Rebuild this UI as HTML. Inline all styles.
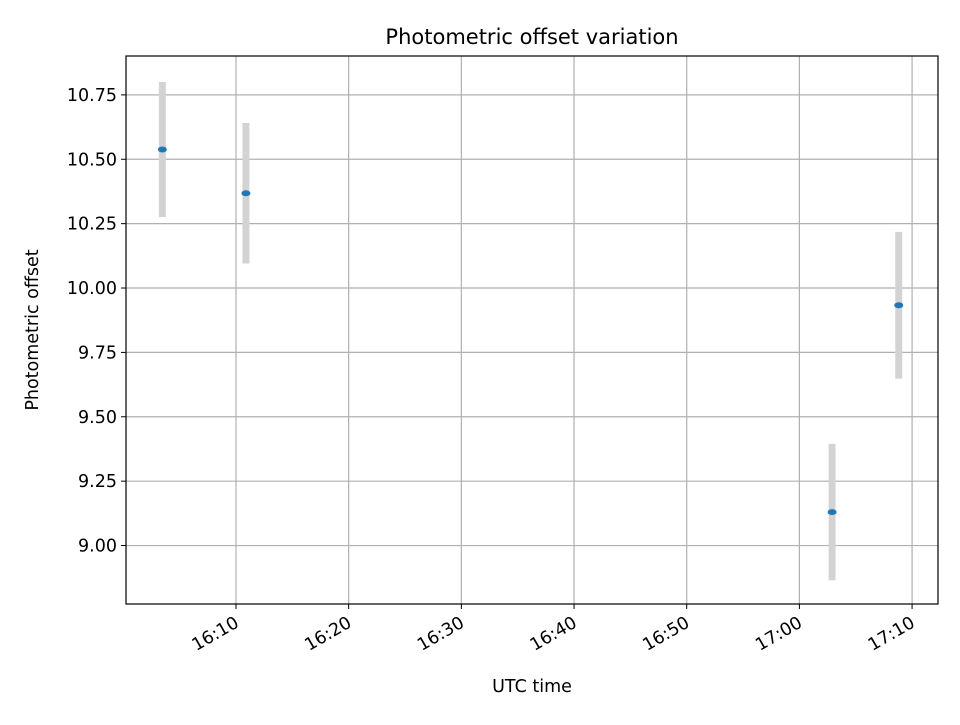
<!DOCTYPE html>
<html><head><meta charset="utf-8"><style>
body{margin:0;background:#fff;}
svg text{font-family:"DejaVu Sans","Liberation Sans",sans-serif;}
</style></head><body>
<svg id="chart" width="960" height="720" xmlns="http://www.w3.org/2000/svg">
<rect width="960" height="720" fill="#fff"/>
<g id="grid"></g>
<g id="marks"></g>
<rect x="126" y="56" width="812" height="548" fill="none" stroke="#000" stroke-width="1.2"/>
<g id="axes"></g>
<text x="532" y="44" font-size="21" text-anchor="middle">Photometric offset variation</text>
<text x="532" y="692" font-size="17.5" text-anchor="middle">UTC time</text>
<text x="38" y="330" font-size="17.5" text-anchor="middle" transform="rotate(-90 38 330)">Photometric offset</text>
</svg>
<script>
const times = ["16:03:28","16:10:53","17:02:54","17:08:49"];
const offsets = [10.538,10.368,9.130,9.933];
const errors = [0.262,0.273,0.265,0.285];
const yTicks = [9.00,9.25,9.50,9.75,10.00,10.25,10.50,10.75];
const xTickLabels = ["16:10","16:20","16:30","16:40","16:50","17:00","17:10"];

const L=126,R=938,T=56,B=604;
const yMin=8.773,yMax=10.901;
const xMin=16*60+0.24,xMax=17*60+12.3;
function toMin(s){const p=s.split(":").map(Number);return p[0]*60+p[1]+(p[2]||0)/60;}
function xs(m){return L+(m-xMin)/(xMax-xMin)*(R-L);}
function ys(v){return B-(v-yMin)/(yMax-yMin)*(B-T);}
const NS="http://www.w3.org/2000/svg";
const grid=document.getElementById("grid"),axes=document.getElementById("axes"),marks=document.getElementById("marks");
function mk(tag,attrs,parent){const e=document.createElementNS(NS,tag);for(const k in attrs)e.setAttribute(k,attrs[k]);parent.appendChild(e);return e;}
yTicks.forEach(v=>{
  const y=ys(v);
  const g=mk("line",{x1:L,x2:R,y1:y,y2:y,stroke:"#b0b0b0","stroke-width":1.2},grid);
  
  
  const t=mk("line",{x1:L-5,x2:L,y1:y,y2:y,stroke:"#000","stroke-width":1},axes);
  
  
  const tx=mk("text",{x:L-9,y:y+6,"font-size":17.5,"text-anchor":"end"},axes);
  tx.textContent=v.toFixed(2);
  
  
});
xTickLabels.forEach(s=>{
  const x=xs(toMin(s));
  const g=mk("line",{x1:x,x2:x,y1:T,y2:B,stroke:"#b0b0b0","stroke-width":1.2},grid);
  
  
  const t=mk("line",{x1:x,x2:x,y1:B,y2:B+5,stroke:"#000","stroke-width":1},axes);
  
  
  const ax=x+4, ay=B+22;
  const tx=mk("text",{x:ax,y:ay,"font-size":17.5,"text-anchor":"end",transform:`rotate(-30 ${ax} ${ay})`},axes);
  tx.textContent=s;
  
  
});
times.forEach((s,i)=>{
  const x=xs(toMin(s));
  const e=mk("line",{x1:x,x2:x,y1:ys(offsets[i]+errors[i]),y2:ys(offsets[i]-errors[i]),stroke:"#d3d3d3","stroke-width":7},marks);
  
  
});
times.forEach((s,i)=>{
  const p=mk("ellipse",{cx:xs(toMin(s)),cy:ys(offsets[i]),rx:4.5,ry:3,fill:"#1f77b4"},marks);
  
  
});
</script>
</body></html>
